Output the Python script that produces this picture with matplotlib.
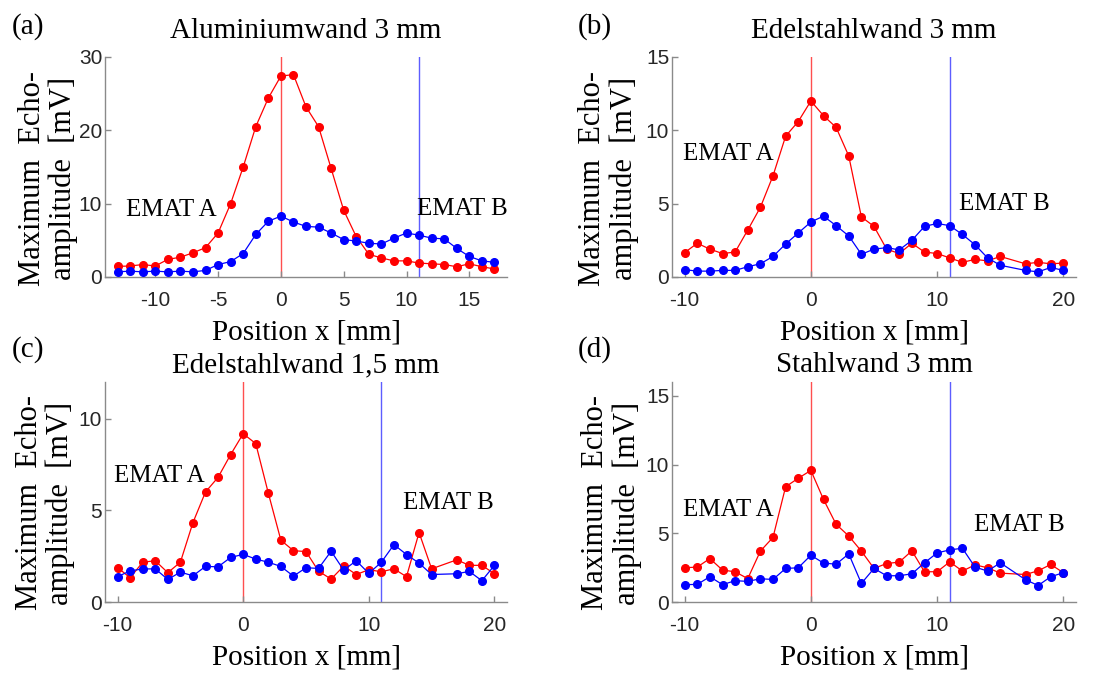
import numpy as np
import matplotlib
matplotlib.use("Agg")
import matplotlib.pyplot as plt

plt.rcParams["axes.unicode_minus"] = False

# ---- measured echo amplitudes [mV] over probe position x [mm] ----
x_alu = list(range(-13, 18))
alu_a = [1.45, 1.5, 1.7, 1.5, 2.4, 2.7, 3.3, 4.0, 6.0, 10.0, 15.0, 20.5, 24.4, 27.4,
         27.6, 23.2, 20.5, 14.8, 9.1, 5.5, 3.1, 2.6, 2.2, 2.2, 1.9, 1.8, 1.7, 1.4,
         1.8, 1.4, 1.1]
alu_b = [0.7, 0.8, 0.7, 0.8, 0.7, 0.8, 0.7, 0.9, 1.7, 2.1, 3.2, 5.8, 7.6, 8.3,
         7.5, 6.9, 6.8, 6.0, 5.1, 4.9, 4.6, 4.5, 5.3, 6.0, 5.7, 5.3, 5.2, 3.9,
         2.8, 2.2, 2.0]

# positions -10..20 without x = 16
x_std = [v for v in range(-10, 21) if v != 16]
ed3_a = [1.66, 2.3, 1.9, 1.6, 1.7, 3.2, 4.75, 6.9, 9.6, 10.6, 12.0, 11.0, 10.2,
         8.25, 4.1, 3.45, 1.9, 1.6, 2.3, 1.7, 1.6, 1.3, 1.0, 1.2, 1.1, 1.4,
         0.9, 1.0, 0.9, 0.95]
ed3_b = [0.5, 0.4, 0.4, 0.45, 0.45, 0.7, 0.9, 1.4, 2.25, 3.0, 3.75, 4.15, 3.5,
         2.8, 1.55, 1.9, 2.0, 1.85, 2.5, 3.45, 3.65, 3.5, 2.9, 2.2, 1.3, 0.8,
         0.45, 0.35, 0.65, 0.45]

ed15_a = [1.88, 1.32, 2.17, 2.25, 1.6, 2.17, 4.33, 6.0, 6.8, 8.04, 9.18, 8.64,
          5.94, 3.37, 2.8, 2.75, 1.68, 1.25, 1.96, 1.5, 1.76, 1.65, 1.81, 1.38,
          3.79, 1.81, 2.3, 2.0, 2.0, 1.54]
ed15_b = [1.38, 1.7, 1.8, 1.81, 1.23, 1.63, 1.43, 1.94, 1.92, 2.43, 2.6, 2.34,
          2.17, 1.94, 1.41, 1.87, 1.83, 2.77, 1.74, 2.25, 1.56, 2.17, 3.13, 2.59,
          2.12, 1.5, 1.54, 1.67, 1.16, 2.0]

st3_a = [2.49, 2.54, 3.16, 2.32, 2.2, 1.7, 3.7, 4.7, 8.38, 9.0, 9.57, 7.46, 5.65,
         4.8, 3.7, 2.44, 2.8, 2.9, 3.72, 2.2, 2.2, 2.92, 2.25, 2.7, 2.49, 2.1,
         2.0, 2.27, 2.73, 2.13]
st3_b = [1.26, 1.28, 1.84, 1.26, 1.55, 1.5, 1.69, 1.64, 2.44, 2.49, 3.4, 2.83,
         2.75, 3.5, 1.35, 2.44, 1.91, 1.91, 2.05, 2.85, 3.57, 3.79, 3.91, 2.54,
         2.25, 2.85, 1.62, 1.2, 1.84, 2.13]

titles = ["Aluminiumwand 3 mm", "Edelstahlwand 3 mm",
          "Edelstahlwand 1,5 mm", "Stahlwand 3 mm"]
letters = ["(a)", "(b)", "(c)", "(d)"]
emat_a_pos = [(-12.3, 9.1), (-10.1, 8.4), (-10.3, 6.9), (-10.1, 6.7)]
emat_b_pos = [(10.8, 9.3), (11.76, 5.0), (12.7, 5.4), (12.9, 5.6)]
pos_a, pos_b = 0, 11

panels = [
    dict(x=x_alu, a=alu_a, b=alu_b, xlim=(-14, 18), ylim=(0, 30),
         xt=[-10, -5, 0, 5, 10, 15], yt=[0, 10, 20, 30]),
    dict(x=x_std, a=ed3_a, b=ed3_b, xlim=(-11, 21), ylim=(0, 15),
         xt=[-10, 0, 10, 20], yt=[0, 5, 10, 15]),
    dict(x=x_std, a=ed15_a, b=ed15_b, xlim=(-11, 21), ylim=(0, 12),
         xt=[-10, 0, 10, 20], yt=[0, 5, 10]),
    dict(x=x_std, a=st3_a, b=st3_b, xlim=(-11, 21), ylim=(0, 16),
         xt=[-10, 0, 10, 20], yt=[0, 5, 10, 15]),
]

W, H = 1110, 675
fig = plt.figure(figsize=(W / 100, H / 100), dpi=100)

serif = "Liberation Serif"
sans = "Liberation Sans"
spine_col = "#8a8a8a"
tick_col = "#262626"

# axes boxes in pixels: left, top, right, bottom
boxes = [(105, 57, 507, 277), (672, 57, 1076, 277),
         (105, 382, 507, 602), (672, 382, 1076, 602)]
title_pads = [13.5, 13.5, 7, 7]
xlabel_pads = [7, 7, 7, 7]
ylabel_x = [-0.066, -0.082, -0.074, -0.074]
letter_xy = [(12, 27), (578, 27), (12, 350), (578, 350)]

for i, (p, box) in enumerate(zip(panels, boxes)):
    l, t, r, b = box
    ax = fig.add_axes([l / W, 1 - b / H, (r - l) / W, (b - t) / H])
    ax.axvline(pos_a, color="#ff3030", lw=1.0, alpha=0.85, zorder=1)
    ax.axvline(pos_b, color="#4040ff", lw=1.0, alpha=0.85, zorder=1)
    ax.plot(p["x"], p["a"], "-o", color="#ff0000", lw=0.9, ms=5.5,
            mec="#ff0000", zorder=3)
    ax.plot(p["x"], p["b"], "-o", color="#0000ff", lw=0.9, ms=5.5,
            mec="#0000ff", zorder=3)
    ax.set_xlim(*p["xlim"])
    ax.set_ylim(*p["ylim"])
    ax.set_xticks(p["xt"])
    ax.set_yticks(p["yt"])
    for s in ["top", "right"]:
        ax.spines[s].set_visible(False)
    for s in ["left", "bottom"]:
        ax.spines[s].set_color(spine_col)
        ax.spines[s].set_linewidth(1.0)
    ax.tick_params(direction="in", length=4, width=1, color=spine_col,
                   labelcolor=tick_col, labelsize=15)
    ax.tick_params(axis="x", pad=10)
    ax.tick_params(axis="y", pad=2)
    for lab in ax.get_xticklabels() + ax.get_yticklabels():
        lab.set_fontfamily(sans)
    ax.set_title(titles[i], fontsize=21, family=serif, pad=title_pads[i])
    ax.set_xlabel("Position x [mm]", fontsize=21, family=serif,
                  labelpad=xlabel_pads[i])
    ax.set_ylabel("Maximum  Echo-\namplitude  [mV]", fontsize=22, family=serif,
                  linespacing=1.1, multialignment="center")
    ax.yaxis.set_label_coords(ylabel_x[i], 0.45)
    ax.text(*emat_a_pos[i], "EMAT A", fontsize=18, family=serif, va="center",
            ha="left", clip_on=False)
    ax.text(*emat_b_pos[i], "EMAT B", fontsize=18, family=serif, va="center",
            ha="left", clip_on=False)
    fig.text(letter_xy[i][0] / W, 1 - letter_xy[i][1] / H, letters[i],
             fontsize=21, family=serif, va="center", ha="left")

fig.savefig("out.png", dpi=100)
